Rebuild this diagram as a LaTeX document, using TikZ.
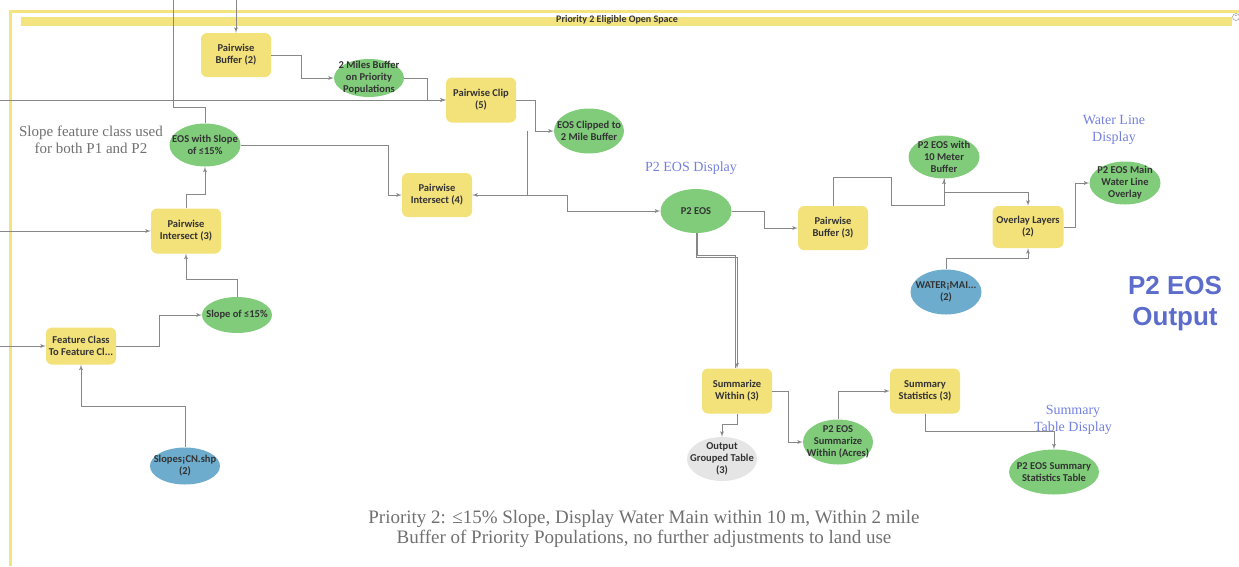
\documentclass[tikz,border=0pt]{standalone}
\usepackage{fontspec}
\setmainfont{Liberation Serif}
\newfontfamily\boxfont{Carlito}
\newfontfamily\bigfont{Liberation Sans}
\usepackage{tikz}
\usetikzlibrary{arrows}
\usetikzlibrary{positioning}
\usetikzlibrary{shapes.geometric}

\definecolor{toolyellow}{RGB}{243,225,122}
\definecolor{datagreen}{RGB}{128,204,123}
\definecolor{datablue}{RGB}{109,172,205}
\definecolor{datagray}{RGB}{229,229,229}
\definecolor{framecol}{RGB}{244,228,128}
\definecolor{linkgray}{RGB}{135,135,135}
\definecolor{notegray}{RGB}{112,112,112}
\definecolor{displayblue}{RGB}{116,128,224}
\definecolor{outblue}{RGB}{92,108,204}

\begin{document}
\begin{tikzpicture}[x=1pt,y=-1pt,>=latex',
  tool node/.style={rectangle,rounded corners=6pt,fill=toolyellow,minimum width=70pt,minimum height=44pt,inner sep=1pt,align=center,font=\boxfont\bfseries\fontsize{10.5}{12}\selectfont,text=black!80},
  data node/.style={ellipse,fill=datagreen,minimum width=71pt,minimum height=44pt,inner xsep=-14pt,inner ysep=-9pt,align=center,font=\boxfont\bfseries\fontsize{10.5}{12}\selectfont,text=black!80},
  input node/.style={data node,fill=datablue},
  table node/.style={data node,fill=datagray},
  link/.style={->,draw=linkgray,line width=0.9pt},
  note/.style={align=center,font=\fontsize{14}{17}\selectfont}]

  \useasboundingbox (0,0) rectangle (1239,566);

  \draw[framecol,line width=3pt] (10,566) -- (10,11.5) -- (1239,11.5);
  \fill[framecol] (21,16.5) rectangle (1232,25.5);
  \node[font=\boxfont\bfseries\fontsize{10}{10}\selectfont,text=black!80] (header) at (617,19.5) {Priority 2 Eligible Open Space};
  \node[circle,draw=gray,fill=white,inner sep=0pt,minimum size=7pt,font=\boxfont\fontsize{6}{6}\selectfont] (collapse) at (1236,17) {-};

  \node[tool node] (pb2) at (236,55) {Pairwise\\Buffer (2)};
  \node[data node,minimum width=70pt,minimum height=38pt] (miles) at (369,78) {2 Miles Buffer\\on Priority\\Populations};
  \node[tool node,minimum height=45pt] (clip) at (481,100) {Pairwise Clip\\(5)};
  \node[data node,minimum width=70pt,minimum height=45pt] (eosclip) at (589,131) {EOS Clipped to\\2 Mile Buffer};
  \node[data node,minimum height=43pt] (eosslope) at (205,145) {EOS with Slope\\of ≤15\%};
  \node[tool node] (int4) at (437,195) {Pairwise\\Intersect (4)};
  \node[tool node,minimum height=45pt] (int3) at (186,231) {Pairwise\\Intersect (3)};
  \node[data node,minimum width=70pt,minimum height=36pt] (slope) at (237,315) {Slope of ≤15\%};
  \node[tool node,minimum height=37pt] (fc) at (81,346) {Feature Class\\To Feature Cl...};
  \node[input node,minimum width=70pt,minimum height=37pt] (slopes) at (185,466) {Slopes¡CN.shp\\(2)};

  \node[data node] (p2eos) at (696,211) {P2 EOS};
  \node[tool node] (pb3) at (833,228) {Pairwise\\Buffer (3)};
  \node[data node,minimum height=43pt] (buf10) at (944,157) {P2 EOS with\\10 Meter\\Buffer};
  \node[tool node,minimum width=71pt,minimum height=42pt] (ovl) at (1028,227) {Overlay Layers\\(2)};
  \node[data node,minimum height=43pt] (main) at (1125,183) {P2 EOS Main\\Water Line\\Overlay};
  \node[input node,minimum height=45pt] (water) at (946,292) {WATER¡MAI...\\(2)};
  \node[tool node,minimum height=45pt] (sumw) at (737,391) {Summarize\\Within (3)};
  \node[table node,minimum width=70pt] (grouped) at (722,459) {Output\\Grouped Table\\(3)};
  \node[data node,minimum width=70pt,minimum height=45pt] (acres) at (838,442) {P2 EOS\\Summarize\\Within (Acres)};
  \node[tool node,minimum height=45pt] (sumstat) at (925,391) {Summary\\Statistics (3)};
  \node[data node,minimum width=90pt,minimum height=45pt] (sumtab) at (1054,472) {P2 EOS Summary\\Statistics Table};

  \coordinate (topa) at (236,0);
  \coordinate (topb) at (173,0);
  \coordinate (lefta) at (0,100);
  \coordinate (leftb) at (0,231);
  \coordinate (leftc) at (0,346);

  \draw[link] (topa) -- (pb2.north);
  \draw[link,-] (eosslope.north) -- ++(0,-16) -| (topb);
  \draw[link] (pb2.east) -- ++(30,0) |- (miles.west);
  \draw[link] (miles.east) -- ++(23,0) |- (clip.west);
  \draw[link] (lefta) -- (clip.west);
  \draw[link] (clip.east) -- ++(19,0) |- (eosclip.west);
  \draw[link] ([xshift=-26pt]eosclip.west) |- (int4.east);
  \draw[link] (int4.east) ++(56,0) -- ++(39,0) |- (p2eos.west);
  \draw[link] (eosslope.east) -- ++(148,0) |- (int4.west);
  \draw[link] (int3.north) -- ++(0,-14) -| (eosslope.south);
  \draw[link] (leftb) -- (int3.west);
  \draw[link] (slope.north) -- ++(0,-17) -| (int3.south);
  \draw[link] (fc.east) -- ++(43,0) |- (slope.west);
  \draw[link] (leftc) -- (fc.west);
  \draw[link] (slopes.north) -- ++(0,-41) -| (fc.south);

  \draw[link] (p2eos.east) -- ++(33,0) |- (pb3.west);
  \draw[link] (p2eos.south) -- ++(0,24) -| (sumw.north);
  \draw[link,-] ([xshift=1.7pt]p2eos.south) -- ++(0,22) -| ([xshift=-1.7pt]sumw.north);
  \draw[link] (pb3.north) |- ++(58,-28) |- ++(53,28) -- (buf10.south);
  \draw[link] (buf10.south) -- ++(0,14) -| (ovl.north);
  \draw[link] (water.north) -- ++(0,-11) -| (ovl.south);
  \draw[link] (ovl.east) -- ++(12,0) |- (main.west);
  \draw[link] (sumw.east) -- ++(16,0) |- (acres.west);
  \draw[link] (sumw.south) -- ++(0,11) -| (grouped.north);
  \draw[link] (acres.north) |- (sumstat.west);
  \draw[link] (sumstat.south) -- ++(0,18) -| (sumtab.north);

  \node[note,font=\fontsize{15}{17}\selectfont,text=notegray] (slopenote) at (91,140) {Slope feature class used\\for both P1 and P2};
  \node[note,text=displayblue] (eosdisp) at (691,168) {P2 EOS Display};
  \node[note,text=displayblue] (waterdisp) at (1114,130) {Water Line\\Display};
  \node[note,text=displayblue] (tabdisp) at (1073,420) {Summary\\Table Display};
  \node[font=\bigfont\bfseries\fontsize{26}{31}\selectfont,text=outblue,align=center] (output) at (1175,304) {P2 EOS\\Output};
  \node[font=\fontsize{19}{20.5}\selectfont,text=notegray,align=center] (caption) at (644,529) {Priority 2: ≤15\% Slope, Display Water Main within 10 m, Within 2 mile\\Buffer of Priority Populations, no further adjustments to land use};

\end{tikzpicture}
\end{document}
